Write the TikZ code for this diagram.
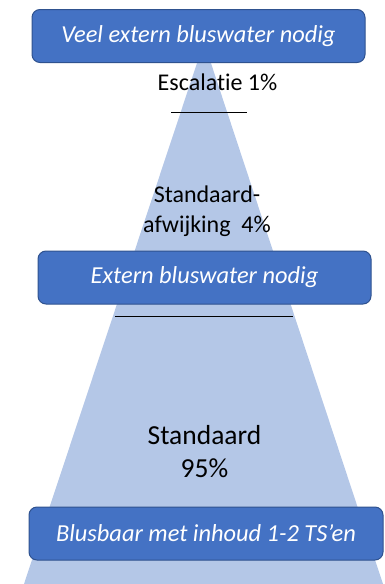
\documentclass[tikz,border=0pt]{standalone}
\usepackage{fontspec}
\setmainfont{Carlito}[Ligatures=NoCommon]
\usepackage{tikz}
\definecolor{pyramidblue}{RGB}{180, 199, 231}
\definecolor{boxblue}{RGB}{68, 114, 196}
\definecolor{boxborder}{RGB}{47, 82, 143}

\tikzset{
    stagebox/.style={draw=boxborder, fill=boxblue, line width=1pt, rounded corners=8pt,
        text=white, font=\fontsize{24.4}{29}\selectfont\itshape, minimum height=53pt, inner sep=0pt},
    pctlabel/.style={font=\fontsize{24}{30}\selectfont, align=center, inner sep=0pt}
}

\begin{document}
\begin{tikzpicture}[x=1pt, y=-1pt]
    \useasboundingbox (0,0) rectangle (385,584);
    \begin{scope}
    \clip (0,0) rectangle (385,584);

    % Pyramid
    \fill[pyramidblue] (204,42) -- (383,584) -- (24,584) -- cycle;

    % Boundaries between the parts
    \draw[line width=0.8pt] (171,112) -- (247,112);
    \draw[line width=0.8pt] (115,316) -- (293,316);

    % Percentages
    \node[pctlabel, anchor=base] (escalation) at (217.5,90) {Escalatie 1\%};
    \node[pctlabel, anchor=base] (deviation) at (207,232) {Standaard-\\afwijking\ \ 4\%};
    \node[pctlabel, anchor=base, font=\fontsize{27.5}{33}\selectfont] (standard) at (204.5,477) {Standaard\\95\%};

    % Stages
    \node[stagebox, minimum width=333pt] (much) at (198.5,36) {Veel extern bluswater nodig};
    \node[stagebox, minimum width=333pt] (extern) at (204.5,277.5) {Extern bluswater nodig};
    \node[stagebox, minimum width=354pt] (content) at (206,533.5) {Blusbaar met inhoud 1-2 TS’en};
    \end{scope}
\end{tikzpicture}
\end{document}
